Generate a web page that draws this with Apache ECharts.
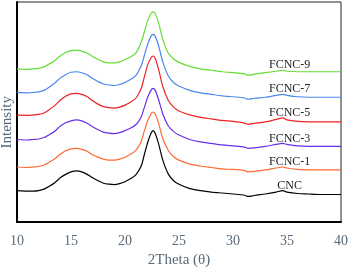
<!DOCTYPE html>
<html><head><meta charset="utf-8">
<script src="https://cdn.jsdelivr.net/npm/echarts@6/dist/echarts.min.js"></script>
<style>html,body{margin:0;padding:0;background:#fff}#c{width:351px;height:273px}</style>
</head><body><div id="c"></div>
<script>
var twoTheta = [10,11,11.5,12,12.5,13,13.5,14,14.5,15,15.5,16,16.5,17,17.5,18,18.5,19,19.5,20,20.5,21,21.5,21.8,22.1,22.4,22.6,22.8,23.1,23.5,24,24.5,25,26,27,28,29,30,31,31.4,32,33,34,34.6,35,36,37,38,39,40];
var fcnc9 = [156,155.5,156,156.5,158,161,164.5,169,172.5,174.5,175,174,172,168.5,165.5,163,162,162,163,165.5,168,172,183,194,205,212,214,212,203,186,172,166,162.5,158.5,156,154.5,153,152,151,149.5,150.5,152,153.5,154.5,153.5,153,153,153,153,153];
var fcnc7 = [132,131.5,132,132.5,134,137.5,141.5,146.5,150,152.5,153,152,150,146,143,140.5,139.5,139,140,142,145,149,159,170,181,189,191,189,180,163,149,142,138.5,134,131.5,130,128.5,127.5,126.5,125,126,127,129,130,129,127.5,127,127,127,127];
var fcnc5 = [109,108.5,109,109.5,111,114.5,118.5,124,128,130.5,131,130,127.5,123.5,120,117.5,116.5,116,117,119,122,126,136,148,160,167,169,166.5,156,138,124,117,113,109,106.5,105,103.5,102.5,101,99.5,100.5,102,104.5,106,104,102.5,102,102,102,102];
var fcnc3 = [84,83.5,84,84.5,86,89,92.5,97.5,101,103,104,103,100.5,97,94,91.5,90.5,90,91,93,95.5,99,107,117,127,134,136,134,125,110,98,92,88.5,84,81.5,80,78.5,77.5,76.5,75,75.5,77,79,80,79,77.5,77,77,77,77];
var fcnc1 = [56,55.5,56,56.5,58,61,64.5,69,72.5,74.5,75,74,72,68.5,66,64,63,63,64,66,69,73,82,93,103,110,112,110,101,85,73,66.5,63,59,57,55.5,54,53.5,52.5,51,51.5,53,55,56,55,53.5,53,53,53,53];
var cnc = [32,31.5,31.5,32,33.5,36.5,40,45,48.5,51,52,51,48.5,45,42,39.5,38.5,38,39,41,44,48,57,69,81,90,93,90,80,63,49,42,38.5,34,32,30.5,29.5,28.5,27.5,26,27,28.5,30.5,32,30.5,29,28.5,28,28,28];
var seriesNames = ['FCNC-9','FCNC-7','FCNC-5','FCNC-3','FCNC-1','CNC'];
var seriesData = [fcnc9, fcnc7, fcnc5, fcnc3, fcnc1, cnc];
var colors = ['#66dd33','#4a88ee','#ee2222','#6a30e8','#ff6a33','#000000'];
var xTicks = [10,15,20,25,30,35,40];
var labelAt = 34.6;

var chart = echarts.init(document.getElementById('c'));
var series = seriesNames.map(function(n,i){
  var d = twoTheta.map(function(x,j){return [x, seriesData[i][j]];});
  var k = twoTheta.indexOf(labelAt);
  return {
    name:n, type:'line', data:d, symbol:'none', smooth:0.25,
    lineStyle:{color:colors[i], width:1.2},
    markPoint:{symbol:'circle', symbolSize:1, itemStyle:{color:'transparent'},
      label:{show:true, formatter:n, position:'inside', offset:[7,-5], color:'#222', fontFamily:'Liberation Serif', fontSize:12},
      data:[{coord:[labelAt, seriesData[i][k]]}]}
  };
});
chart.setOption({
  animation:false,
  grid:{left:17, right:10, top:2, bottom:47, show:true, borderColor:'#222', borderWidth:1},
  xAxis:{type:'value', min:10, max:40, interval:5,
    axisLine:{show:true, lineStyle:{color:'#000', width:2}}, axisTick:{show:false}, splitLine:{show:false},
    axisLabel:{color:'#5a6a78', fontFamily:'Liberation Serif', fontSize:14, margin:12},
    name:'2Theta (\u03b8)', nameLocation:'middle', nameGap:31,
    nameTextStyle:{color:'#5a6a78', fontFamily:'Liberation Serif', fontSize:15}},
  yAxis:{type:'value', min:0, max:224, axisLine:{show:true, lineStyle:{color:'#000', width:2}},
    axisTick:{show:false}, axisLabel:{show:false}, splitLine:{show:false}},
  graphic:[{type:'text', left:0, top:96, rotation:Math.PI/2,
    style:{text:'Intensity', fill:'#5a6a78', font:'15px "Liberation Serif"'}}],
  series:series
});
</script></body></html>
